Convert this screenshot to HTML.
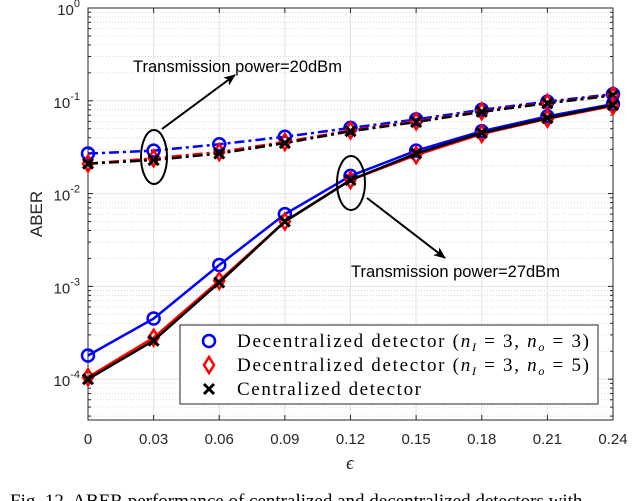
<!DOCTYPE html>
<html><head><meta charset="utf-8"><style>
body{margin:0;background:#fff;overflow:hidden;}
svg{display:block;font-family:"Liberation Sans",sans-serif;}
</style></head><body>
<svg id="chart" width="640" height="501" viewBox="0 0 640 501"></svg>
<script>
const categories=[0,0.03,0.06,0.09,0.12,0.15,0.18,0.21,0.24];
const xTickLabels=["0","0.03","0.06","0.09","0.12","0.15","0.18","0.21","0.24"];
const blue20=[0.027,0.029,0.034,0.041,0.051,0.063,0.080,0.098,0.118];
const red20=[0.021,0.024,0.028,0.036,0.048,0.060,0.077,0.095,0.115];
const black20=[0.021,0.023,0.027,0.035,0.047,0.059,0.076,0.094,0.114];
const blue27=[1.8e-4,4.5e-4,1.7e-3,6.0e-3,1.55e-2,2.9e-2,4.7e-2,6.8e-2,9.2e-2];
const red27=[1.05e-4,2.8e-4,1.15e-3,5.0e-3,1.4e-2,2.6e-2,4.4e-2,6.4e-2,8.8e-2];
const black27=[1.0e-4,2.6e-4,1.1e-3,5.0e-3,1.4e-2,2.7e-2,4.5e-2,6.5e-2,9.0e-2];
const yTickExps=[0,-1,-2,-3,-4];

const NS="http://www.w3.org/2000/svg";
const svg=document.getElementById('chart');
const L=88,R=613,T=8,B=420,YMAX=0,YMIN=-4.44;
function sx(v){return L+(v-0)/(0.24-0)*(R-L);}
function sy(v){return T+(YMAX-Math.log10(v))/(YMAX-YMIN)*(B-T);}
function el(tag,attrs,parent){const e=document.createElementNS(NS,tag);for(const k in attrs)e.setAttribute(k,attrs[k]);(parent||svg).appendChild(e);return e;}

const grid=el('g',{});


for(let d=-5;d<0;d++){for(let m=2;m<10;m++){const v=m*Math.pow(10,d);if(Math.log10(v)<YMIN)continue;
 el('line',{x1:L,x2:R,y1:sy(v),y2:sy(v),stroke:'#ccc','stroke-width':0.7,'stroke-dasharray':'1,2'},grid);}}
yTickExps.forEach(e=>{const y=sy(Math.pow(10,e));el('line',{x1:L,x2:R,y1:y,y2:y,stroke:'#e2e2e2','stroke-width':1},grid);});
categories.forEach(c=>{el('line',{x1:sx(c),x2:sx(c),y1:T,y2:B,stroke:'#e2e2e2','stroke-width':1},grid);});

const box=el('rect',{x:L,y:T,width:R-L,height:B-T,fill:'none',stroke:'#262626','stroke-width':1});


categories.forEach((c,i)=>{
 el('line',{x1:sx(c),x2:sx(c),y1:B,y2:B-5,stroke:'#262626'});
 el('line',{x1:sx(c),x2:sx(c),y1:T,y2:T+5,stroke:'#262626'});
 const t=el('text',{x:sx(c),y:444,'text-anchor':'middle','font-size':15,fill:'#262626'});t.textContent=xTickLabels[i];
 
 
});
yTickExps.forEach(e=>{const y=sy(Math.pow(10,e));
 el('line',{x1:L,x2:L+5,y1:y,y2:y,stroke:'#262626'});el('line',{x1:R,x2:R-5,y1:y,y2:y,stroke:'#262626'});
 const t=el('text',{x:80,y:y+7,'text-anchor':'end','font-size':15,fill:'#262626'});
 t.innerHTML='10<tspan dy="-8" font-size="11">'+e+'</tspan>';
 
 
});
for(let d=-5;d<0;d++){for(let m=2;m<10;m++){const v=m*Math.pow(10,d);if(Math.log10(v)<YMIN)continue;const y=sy(v);
 el('line',{x1:L,x2:L+3,y1:y,y2:y,stroke:'#262626'});el('line',{x1:R,x2:R-3,y1:y,y2:y,stroke:'#262626'});}}

const yl=el('text',{x:0,y:0,transform:'translate(42,214) rotate(-90)','text-anchor':'middle','font-size':17,fill:'#262626'});yl.textContent='ABER';


const xl=el('text',{x:350,y:469,'text-anchor':'middle','font-size':19,'font-style':'italic','font-family':'Liberation Serif,serif',fill:'#262626'});xl.textContent='ϵ';



function marker(type,x,y,color,g){
 if(type==='o')el('circle',{cx:x,cy:y,r:6,fill:'none',stroke:color,'stroke-width':2.5},g);
 else if(type==='d')el('polygon',{points:`${x},${y-8} ${x+5},${y} ${x},${y+8} ${x-5},${y}`,fill:'none',stroke:color,'stroke-width':2.5},g);
 else{el('path',{d:`M${x-5},${y-5}L${x+5},${y+5}M${x-5},${y+5}L${x+5},${y-5}`,stroke:color,'stroke-width':3},g);}
}
function series(vals,color,dash,type,name){
 const g=el('g',{});
 
 
 const pts=vals.map((v,i)=>sx(categories[i])+','+sy(v)).join(' ');
 el('polyline',{points:pts,fill:'none',stroke:color,'stroke-width':2.5,'stroke-dasharray':dash||'none'},g);
 vals.forEach((v,i)=>marker(type,sx(categories[i]),sy(v),color,g));
}
series(blue20,'#0000ff','10,4,3,4','o','series-decentralized-no3-20dbm');
series(red20,'#ff0000','10,4,3,4','d','series-decentralized-no5-20dbm');
series(black20,'#000','10,4,3,4','x','series-centralized-20dbm');
series(blue27,'#0000ff',null,'o','series-decentralized-no3-27dbm');
series(red27,'#ff0000',null,'d','series-decentralized-no5-27dbm');
series(black27,'#000',null,'x','series-centralized-27dbm');

const defs=el('defs',{});
const mk=el('marker',{id:'ah',markerWidth:12,markerHeight:10,refX:11,refY:5,orient:'auto',markerUnits:'userSpaceOnUse'},defs);
el('path',{d:'M0,0 L12,5 L0,10 L3,5 Z',fill:'#000'},mk);
const a1=el('g',{});


el('ellipse',{cx:154,cy:157,rx:13,ry:27,fill:'none',stroke:'#000','stroke-width':2},a1);
el('line',{x1:162,y1:129,x2:235,y2:75,stroke:'#000','stroke-width':2,'marker-end':'url(#ah)'},a1);
const t1=el('text',{x:133,y:72,'font-size':16.5,fill:'#000'},a1);t1.textContent='Transmission power=20dBm';
const a2=el('g',{});


el('ellipse',{cx:351,cy:183,rx:14,ry:27,fill:'none',stroke:'#000','stroke-width':2},a2);
el('line',{x1:367,y1:198,x2:445,y2:258,stroke:'#000','stroke-width':2,'marker-end':'url(#ah)'},a2);
const t2=el('text',{x:351,y:277,'font-size':16.5,fill:'#000'},a2);t2.textContent='Transmission power=27dBm';

const lg=el('g',{});


el('rect',{x:180,y:325,width:418,height:79,fill:'#fff',stroke:'#262626','stroke-width':1},lg);
const entries=[['o','#0000ff','Decentralized detector (<tspan font-style="italic">n<tspan font-size="12" dy="4">I</tspan></tspan><tspan dy="-4"> = 3, </tspan><tspan font-style="italic">n<tspan font-size="12" dy="4">o</tspan></tspan><tspan dy="-4"> = 3)</tspan>',352],
 ['d','#ff0000','Decentralized detector (<tspan font-style="italic">n<tspan font-size="12" dy="4">I</tspan></tspan><tspan dy="-4"> = 3, </tspan><tspan font-style="italic">n<tspan font-size="12" dy="4">o</tspan></tspan><tspan dy="-4"> = 5)</tspan>',352],
 ['x','#000','Centralized detector',184]];
entries.forEach((e,i)=>{const y=341+i*24;const g=el('g',{},lg);
 
 
 marker(e[0],209,y,e[1],g);
 const t=el('text',{x:237,y:y+6,'font-size':19,'font-family':'Liberation Serif,serif',fill:'#000',textLength:e[3],lengthAdjust:'spacing'},g);t.innerHTML=e[2];});

const cap=el('text',{x:10,y:507,'font-size':19,'font-family':'Liberation Serif,serif',fill:'#000'});
cap.textContent='Fig. 12.  ABER performance of centralized and decentralized detectors with';


</script>
</body></html>
